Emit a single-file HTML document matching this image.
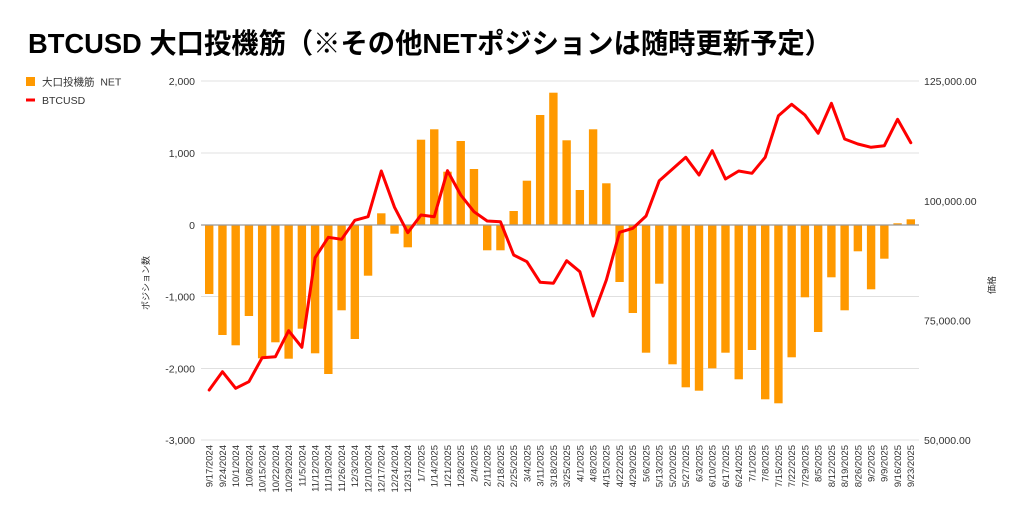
<!DOCTYPE html>
<html><head><meta charset="utf-8">
<style>
html,body{margin:0;padding:0;background:#fff;}
svg{display:block;}
text{font-family:"Liberation Sans","Noto Sans CJK JP",sans-serif;}
</style></head>
<body>
<svg width="1024" height="520" viewBox="0 0 1024 520" xmlns="http://www.w3.org/2000/svg">
<rect width="1024" height="520" fill="#fff"/>
<text x="28" y="53" font-size="28" font-weight="bold" fill="#000" textLength="804" lengthAdjust="spacingAndGlyphs">BTCUSD 大口投機筋（※その他NETポジションは随時更新予定）</text>
<rect x="26" y="77" width="9" height="9" fill="#ff9900"/>
<text x="42" y="85.5" font-size="10.5" fill="#333">大口投機筋&#160;&#160;NET</text>
<rect x="26" y="98.5" width="9" height="3" fill="#ff0000"/>
<text x="42" y="104" font-size="10.5" fill="#333">BTCUSD</text>
<g stroke="#e0e0e0" stroke-width="1">
<line x1="201" y1="81" x2="919" y2="81"/>
<line x1="201" y1="153" x2="919" y2="153"/>
<line x1="201" y1="296.5" x2="919" y2="296.5"/>
<line x1="201" y1="368.5" x2="919" y2="368.5"/>
<line x1="201" y1="440" x2="919" y2="440"/>
</g>
<g font-size="10.5" fill="#333" text-anchor="end">
<text x="195" y="85">2,000</text>
<text x="195" y="157">1,000</text>
<text x="195" y="229">0</text>
<text x="195" y="300.5">-1,000</text>
<text x="195" y="372.5">-2,000</text>
<text x="195" y="444">-3,000</text>
</g>
<g font-size="10.5" fill="#333">
<text x="924" y="85">125,000.00</text>
<text x="924" y="205">100,000.00</text>
<text x="924" y="324.5">75,000.00</text>
<text x="924" y="444">50,000.00</text>
</g>
<text transform="translate(149,283) rotate(-90)" font-size="9" fill="#333" text-anchor="middle">ポジション数</text>
<text transform="translate(995,285) rotate(-90)" font-size="9" fill="#333" text-anchor="middle">価格</text>
<g fill="#ff9900" id="bars"></g>
<line x1="201" y1="225" x2="919" y2="225" stroke="#999" stroke-width="1.2"/>
<polyline id="ln" fill="none" stroke="#ff0000" stroke-width="3" stroke-linejoin="round" stroke-linecap="round" points=""/>
<g id="xl" font-size="9.5" fill="#333" text-anchor="end"></g>
</svg>
<script>
var ends=[294,335,345.3,316,358.3,342.3,358.7,328.7,353.3,374,310.3,339,275.7,213.3,233.7,247.3,139.7,129.3,171.7,141,169,250.3,250.3,211,180.7,115,92.7,140.3,190,129.3,183.3,282,313,352.7,283.7,364.3,387.3,390.7,368.3,352.7,379.3,350,399.3,403.3,357.3,297.3,332,277.3,310.3,251.3,289.3,258.7,223.3,219.3];
var ly=[390,371.7,388.3,381.7,357.7,356.7,330.7,347.3,257.7,237.3,239.3,220.3,216.7,171,207.3,232.7,215,216.7,170.7,195,211.7,221,221.7,255,261.7,282.3,283.3,260.7,271.7,316,280,232.3,228.3,216,180.7,169,157.3,175,150.7,179,171,173.3,157.3,115.7,104.3,115,133.3,103.3,139,144,147.3,145.7,119.3,142.7];
var labels=["9/17/2024","9/24/2024","10/1/2024","10/8/2024","10/15/2024","10/22/2024","10/29/2024","11/5/2024","11/12/2024","11/19/2024","11/26/2024","12/3/2024","12/10/2024","12/17/2024","12/24/2024","12/31/2024","1/7/2025","1/14/2025","1/21/2025","1/28/2025","2/4/2025","2/11/2025","2/18/2025","2/25/2025","3/4/2025","3/11/2025","3/18/2025","3/25/2025","4/1/2025","4/8/2025","4/15/2025","4/22/2025","4/29/2025","5/6/2025","5/13/2025","5/20/2025","5/27/2025","6/3/2025","6/10/2025","6/17/2025","6/24/2025","7/1/2025","7/8/2025","7/15/2025","7/22/2025","7/29/2025","8/5/2025","8/12/2025","8/19/2025","8/26/2025","9/2/2025","9/9/2025","9/16/2025","9/23/2025"];
var NS="http://www.w3.org/2000/svg";
var bars=document.getElementById("bars"),xl=document.getElementById("xl");
var pts=[];
for(var i=0;i<54;i++){
 var cx=209.2+13.238*i;
 var e=ends[i];var y0=Math.min(225,e),h=Math.abs(e-225);
 var r=document.createElementNS(NS,"rect");
 r.setAttribute("x",(cx-4.2).toFixed(2));r.setAttribute("y",y0.toFixed(2));
 r.setAttribute("width","8.4");r.setAttribute("height",h.toFixed(2));
 bars.appendChild(r);
 pts.push(cx.toFixed(2)+","+ly[i]);
 var t=document.createElementNS(NS,"text");
 t.setAttribute("transform","translate("+(cx+3.4).toFixed(2)+",445) rotate(-90)");
 t.textContent=labels[i];
 xl.appendChild(t);
}
document.getElementById("ln").setAttribute("points",pts.join(" "));
</script>
</body></html>
